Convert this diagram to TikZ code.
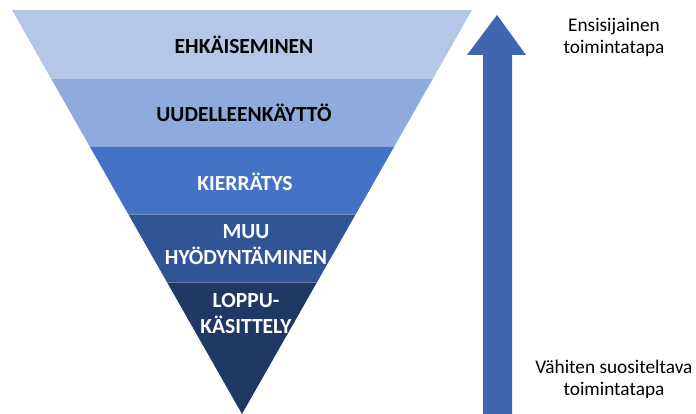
\documentclass[tikz,border=0pt]{standalone}
\usepackage{fontspec}
\setmainfont{Carlito}
\definecolor{bandA}{HTML}{B4C7E7}
\definecolor{bandB}{HTML}{8FAADC}
\definecolor{bandC}{HTML}{4472C4}
\definecolor{bandD}{HTML}{2F5597}
\definecolor{bandE}{HTML}{203864}
\definecolor{arrowblue}{HTML}{4066B0}
\begin{document}
\begin{tikzpicture}[
      x=1pt,y=1pt,
      level/.style={font=\fontsize{21.5}{26}\selectfont\bfseries,align=center,inner sep=0pt},
      dark/.style={level,text=white},
      light/.style={level,text=black},
      note/.style={font=\fontsize{19.3}{22}\selectfont,align=center,inner sep=0pt},
      sep/.style={draw=white,draw opacity=0.35,line width=0.8pt},
      ]
      \useasboundingbox (0,0) rectangle (696,414);
      % inverted pyramid
      \coordinate (tl) at (12,404);
      \coordinate (tr) at (472,404);
      \coordinate (apex) at (242,0);
      \begin{scope}
        \clip (tl) -- (tr) -- (apex) -- cycle;
        \fill[bandA] (0,336) rectangle (480,404);
        \fill[bandB] (0,268) rectangle (480,336);
        \fill[bandC] (0,200) rectangle (480,268);
        \fill[bandD] (0,132) rectangle (480,200);
        \fill[bandE] (0,0) rectangle (480,132);
        \draw[sep] (0,336) -- (480,336);
        \draw[sep] (0,268) -- (480,268);
        \draw[sep] (0,200) -- (480,200);
        \draw[sep] (0,132) -- (480,132);
      \end{scope}
      \node[light] (ehk) at (244,369) {EHKÄISEMINEN};
      \node[light] (uud) at (244,301) {UUDELLEENKÄYTTÖ};
      \node[dark] (kie) at (245,232) {KIERRÄTYS};
      \node[dark] (muu) at (246,169) {MUU\\HYÖDYNTÄMINEN};
      \node[dark] (lop) at (246,100) {LOPPU-\\KÄSITTELY};
      % arrow
      \fill[arrowblue] (483,0) -- (483,359) -- (467,359) -- (497,399)
        -- (526,359) -- (512,359) -- (512,0) -- cycle;
      \node[note] (ylin) at (614,377) {Ensisijainen\\toimintatapa};
      \node[note] (alin) at (614,35) {Vähiten suositeltava\\toimintatapa};
    \end{tikzpicture}
\end{document}
